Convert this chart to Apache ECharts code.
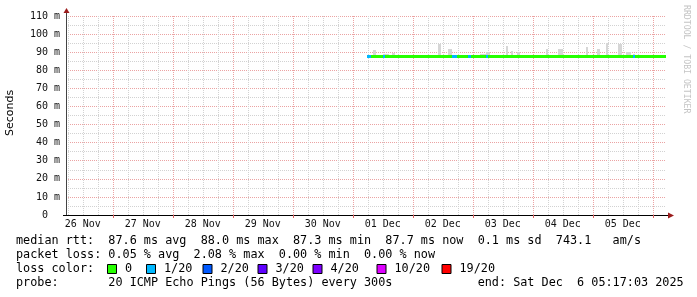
<!DOCTYPE html>
<html><head><meta charset="utf-8">
<script src="https://cdn.jsdelivr.net/npm/echarts@6/dist/echarts.min.js"></script>
<style>html,body{margin:0;padding:0;background:#fff}#c{width:697px;height:297px}</style>
</head><body><div id="c"></div>
<script>
// x values are hours since 26 Nov 2025 00:00
const viewStartH = 5.28, viewEndH = 245.28;
const dayLabels = ['26 Nov','27 Nov','28 Nov','29 Nov','30 Nov','01 Dec','02 Dec','03 Dec','04 Dec','05 Dec'];
const dayLabelHours = [12,36,60,84,108,132,156,180,204,228];
const majorGridHours = [24,48,72,96,120,144,168,192,216,240];
const minorGridHours = [6,12,18,30,36,42,54,60,66,78,84,90,102,108,114,126,132,138,150,156,162,174,180,186,198,204,210,222,228,234];
const yMin = 0, yMax = 110, yStep = 10;

// samples (step segments starting at segStartH)
const segStartH = [125.5,127.2,128.0,129.3,131.0,132.2,133.0,134.5,135.5,136.7,154.1,155.3,158.1,159.7,161.7,166.1,167.3,170.9,173.3,174.1,174.9,181.3,182.1,183.3,184.1,185.7,186.9,190.9,197.3,198.1,202.1,204.1,213.3,214.1,217.7,218.9,221.3,221.9,226.1,227.7,229.3,231.3,232.1,232.9];
const medianMs  = [87.7,87.7,87.7,87.7,87.6,87.7,87.7,87.6,87.7,87.6,87.6,87.6,87.6,87.6,87.6,87.6,87.6,87.6,87.6,87.6,87.6,87.6,87.6,87.4,87.4,87.5,87.6,87.7,87.7,87.7,87.7,87.6,87.7,87.7,87.7,87.7,87.8,87.8,87.7,87.7,87.7,87.7,87.7,87.7];
const smokeMaxMs= [88.4,88.2,91.3,88.2,88.6,88.8,89.0,88.3,89.6,88.2,94.3,88.5,91.8,88.3,88.2,88.2,88.4,89.0,90.3,90.3,88.3,93.4,88.4,90.5,88.4,90.0,88.4,88.3,91.7,88.3,91.5,88.4,92.8,88.3,92.0,88.4,95.0,88.5,94.5,88.6,90.0,88.4,88.8,88.3];
const smokeMinMs= [87.3,87.3,87.3,87.3,87.3,87.3,87.3,87.3,87.3,87.3,87.3,87.3,87.3,87.3,87.3,87.3,87.3,87.3,87.3,87.3,87.3,87.3,87.3,87.2,87.2,87.3,87.3,87.3,87.3,87.3,87.3,87.3,87.3,87.3,87.3,87.3,87.3,87.3,87.3,87.3,87.3,87.3,87.3,87.3];
const lossLevelIdx = [1,0,0,0,0,1,0,0,0,0,0,0,0,1,0,1,0,0,1,0,0,0,0,0,0,0,0,0,0,0,0,0,0,0,0,0,0,0,0,0,0,0,1,0];

const lossLevels = ['0','1/20','2/20','3/20','4/20','10/20','19/20'];
const lossColors = ['#26ff00','#00b8ff','#0059ff','#5e00ff','#7e00ff','#dd00ff','#ff0000'];

const legendLine1 = 'median rtt:  87.6 ms avg  88.0 ms max  87.3 ms min  87.7 ms now  0.1 ms sd  743.1   am/s';
const legendLine2 = 'packet loss: 0.05 % avg  2.08 % max  0.00 % min  0.00 % now';
const legendLine3Head = 'loss color:';
const legendLine4 = 'probe:       20 ICMP Echo Pings (56 Bytes) every 300s            end: Sat Dec  6 05:17:03 2025';
const yAxisName = 'Seconds';
const watermark = 'RRDTOOL / TOBI OETIKER';

const segEnd = i => (i + 1 < segStartH.length ? segStartH[i + 1] : viewEndH);
const smokeData = segStartH.map((t, i) => [t, segEnd(i), smokeMinMs[i], smokeMaxMs[i]]);
const medianData = segStartH.map((t, i) => [t, segEnd(i), medianMs[i], lossLevelIdx[i]]);

const MONO = 'DejaVu Sans Mono';
const MAJ = '#eba3a3', MIN = '#d2d2d2';

function vGrid(color, major) {
  return function (params, api) {
    const h = api.value(0);
    const p0 = api.coord([h, yMin]), p1 = api.coord([h, yMax]);
    const x = Math.round(p0[0]) + 0.5;
    const children = [{type:'line', shape:{x1:x, y1:p0[1], x2:x, y2:p1[1]}, style:{stroke:color, lineWidth:1, lineDash:[1,1]}}];
    if (major) children.push({type:'line', shape:{x1:x, y1:p0[1], x2:x, y2:p0[1] + 3}, style:{stroke:'#e06060', lineWidth:1}});
    return {type:'group', silent:true, children};
  };
}

const chart = echarts.init(document.getElementById('c'), null, {renderer:'canvas'});
const L = 66, R = 666, T = 16, B = 215;
const boxX = [107, 146, 202.5, 257.5, 312.5, 376.5, 441.5];
const graphics = [
  {type:'text', x:16, y:241, style:{text:legendLine1, font:'11.8px ' + MONO, fill:'#000', verticalAlign:'middle'}},
  {type:'text', x:16, y:255, style:{text:legendLine2, font:'11.8px ' + MONO, fill:'#000', verticalAlign:'middle'}},
  {type:'text', x:16, y:269, style:{text:legendLine3Head, font:'11.8px ' + MONO, fill:'#000', verticalAlign:'middle'}},
  {type:'text', x:16, y:283, style:{text:legendLine4, font:'11.8px ' + MONO, fill:'#000', verticalAlign:'middle'}},
  {type:'text', x:10, y:113, rotation:Math.PI/2, style:{text:yAxisName, font:'11px DejaVu Sans', fill:'#000', align:'center', verticalAlign:'middle'}},
  {type:'text', x:686, y:5, rotation:-Math.PI/2, style:{text:watermark, font:'8.2px ' + MONO, fill:'#c4c4c4', align:'left', verticalAlign:'middle'}},
  {type:'line', shape:{x1:L+0.5, y1:T, x2:L+0.5, y2:11}, style:{stroke:'#444', lineWidth:1}},
  {type:'line', shape:{x1:63, y1:B+0.5, x2:L, y2:B+0.5}, style:{stroke:'#000', lineWidth:1}},
  {type:'line', shape:{x1:R, y1:B+0.5, x2:669, y2:B+0.5}, style:{stroke:'#000', lineWidth:1}},
  {type:'polygon', shape:{points:[[63.5,13],[66.5,8],[69.5,13]]}, style:{fill:'#9b1c1c'}},
  {type:'polygon', shape:{points:[[668,212.5],[674,215.5],[668,218.5]]}, style:{fill:'#9b1c1c'}}
];
lossLevels.forEach((lv, i) => {
  graphics.push({type:'rect', shape:{x:boxX[i] + 0.5, y:264.5, width:9, height:9}, style:{fill:lossColors[i], stroke:'#000', lineWidth:1}});
  graphics.push({type:'text', x:boxX[i] + 18, y:269, style:{text:lv, font:'11.8px ' + MONO, fill:'#000', verticalAlign:'middle'}});
});

chart.setOption({
  animation:false,
  backgroundColor:'#fff',
  grid:{left:L, right:697 - R, top:T, bottom:297 - B, containLabel:false, outerBoundsMode:'none'},
  xAxis:{type:'value', min:viewStartH, max:viewEndH,
    axisLine:{show:true, onZero:false, lineStyle:{color:'#000', width:1}},
    axisTick:{show:false}, axisLabel:{show:false}, splitLine:{show:false}},
  yAxis:{type:'value', min:yMin, max:yMax, interval:yStep,
    axisLine:{show:true, lineStyle:{color:'#444', width:1}},
    axisTick:{show:false},
    axisLabel:{formatter:v => (v === 0 ? '0  ' : v + ' m'), fontFamily:MONO, fontSize:10, color:'#111', margin:6},
    splitLine:{show:true, lineStyle:{color:MAJ, width:1, type:[1,1]}},
    minorTick:{show:false, splitNumber:2},
    minorSplitLine:{show:true, lineStyle:{color:MIN, width:1, type:[1,1]}}},
  graphic:graphics,
  series:[
    {type:'custom', name:'minorGrid', z:1, silent:true, data:minorGridHours.map(h => [h, 0]), encode:{x:0, y:1}, renderItem:vGrid(MIN, false)},
    {type:'custom', name:'majorGrid', z:1, silent:true, data:majorGridHours.map(h => [h, 0]), encode:{x:0, y:1}, renderItem:vGrid(MAJ, true)},
    {type:'custom', name:'dayLabels', z:1, silent:true, data:dayLabelHours.map(h => [h, 0]), encode:{x:0, y:1},
      renderItem:(params, api) => {
        const p = api.coord([api.value(0), yMin]);
        return {type:'text', x:p[0], y:p[1] + 4, style:{text:dayLabels[params.dataIndex], font:'10px ' + MONO, fill:'#111', align:'center', verticalAlign:'top'}};
      }},
    {type:'custom', name:'smoke', z:3, data:smokeData, encode:{x:[0,1], y:[2,3]},
      renderItem:(params, api) => {
        const a = api.coord([api.value(0), api.value(3)]), b = api.coord([api.value(1), api.value(2)]);
        const x0 = Math.round(a[0]), x1 = Math.round(b[0]), y0 = Math.round(a[1]), y1 = Math.round(b[1]);
        return {type:'rect', shape:{x:x0, y:y0, width:x1 - x0, height:Math.max(1, y1 - y0)}, style:{fill:'#d6d6d6'}};
      }},
    {type:'custom', name:'median', z:4, data:medianData, encode:{x:[0,1], y:2},
      renderItem:(params, api) => {
        const a = api.coord([api.value(0), api.value(2)]), b = api.coord([api.value(1), api.value(2)]);
        const x0 = Math.round(a[0]), x1 = Math.round(b[0]);
        return {type:'rect', shape:{x:x0, y:Math.floor(a[1]) - 1, width:x1 - x0, height:3}, style:{fill:lossColors[api.value(3)]}};
      }}
  ]
});
</script></body></html>
